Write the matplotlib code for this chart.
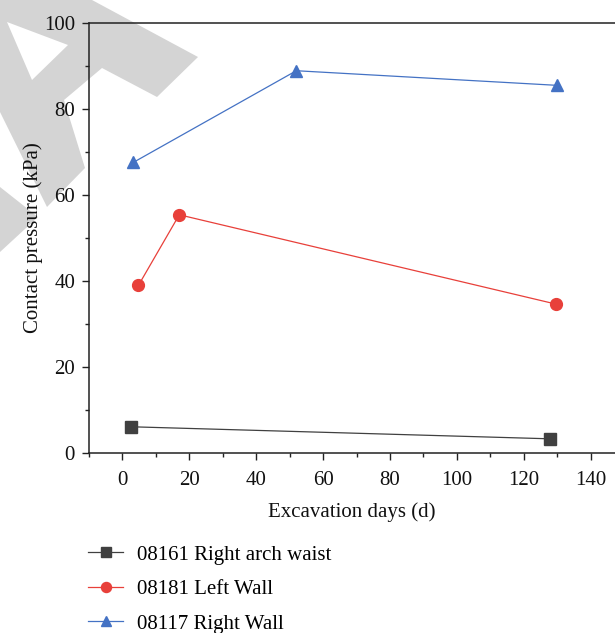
import numpy as np
import matplotlib.pyplot as plt
from matplotlib.patches import Polygon

# Data
days_arch = [2.6, 127.8]
pres_arch = [6.1, 3.3]

days_left = [4.8, 17.0, 129.8]
pres_left = [39.0, 55.4, 34.6]

days_right = [3.3, 52.0, 130.0]
pres_right = [67.6, 88.9, 85.5]

labels = ['08161 Right arch waist', '08181 Left Wall', '08117 Right Wall']

W, H = 615, 633
plt.rcParams['font.family'] = ['Liberation Serif', 'DejaVu Serif']
plt.rcParams['font.size'] = 15

fig = plt.figure(figsize=(W / 100, H / 100), dpi=100)


# light gray watermark fragments in the top-left corner (pixel coords)
def px(pts):
    return [(x / W, 1 - y / H) for x, y in pts]


wm = '#d4d4d4'
fig.add_artist(Polygon(px([(0, 0), (92, 0), (198, 57), (157, 97), (102, 68),
                           (64, 100), (85, 168), (47, 207), (0, 112)]),
                       closed=True, fc=wm, ec='none', transform=fig.transFigure, zorder=-2))
fig.add_artist(Polygon(px([(7, 22), (68, 45), (32, 80)]),
                       closed=True, fc='white', ec='none', transform=fig.transFigure, zorder=-1))
fig.add_artist(Polygon(px([(0, 187), (38, 217), (0, 252)]),
                       closed=True, fc=wm, ec='none', transform=fig.transFigure, zorder=-2))

ax = fig.add_axes([89 / W, 1 - 453 / H, (W - 89) / W, 430 / H])
ax.patch.set_alpha(0)

ax.plot(days_arch, pres_arch, color='#404040', lw=0.9, marker='s', ms=8, label=labels[0])
ax.plot(days_left, pres_left, color='#e8403a', lw=0.9, marker='o', ms=8.5, label=labels[1])
ax.plot(days_right, pres_right, color='#4472c4', lw=0.9, marker='^', ms=8.5, label=labels[2])

ax.set_xlim(-10, 147.3)
ax.set_ylim(0, 100)
ax.set_xticks(np.arange(0, 141, 20))
ax.set_xticks(np.arange(-10, 146, 10), minor=True)
ax.set_yticks(np.arange(0, 101, 20))
ax.set_yticks(np.arange(0, 101, 10), minor=True)

ax.tick_params(which='major', direction='out', length=5, width=1, colors='#222222')
ax.tick_params(which='minor', direction='out', length=3, width=1, colors='#222222')
ax.tick_params(axis='x', which='major', pad=8)
ax.tick_params(axis='y', which='major', pad=5)
ax.tick_params(labelcolor='#111111')

for side in ['left', 'bottom', 'top']:
    ax.spines[side].set_color('#222222')
    ax.spines[side].set_linewidth(1.1)
ax.spines['right'].set_visible(False)

ax.set_xlabel('Excavation days (d)', labelpad=9, color='#111111')
ax.set_ylabel('Contact pressure (kPa)', labelpad=1, color='#111111')

fig.legend(loc='upper left', bbox_to_anchor=(88 / W, 1 - 545 / H), frameon=False,
           borderpad=0, borderaxespad=0, handlelength=1.7, handletextpad=0.65,
           labelspacing=0.72, markerscale=0.85)

fig.savefig('out.png', dpi=100)
